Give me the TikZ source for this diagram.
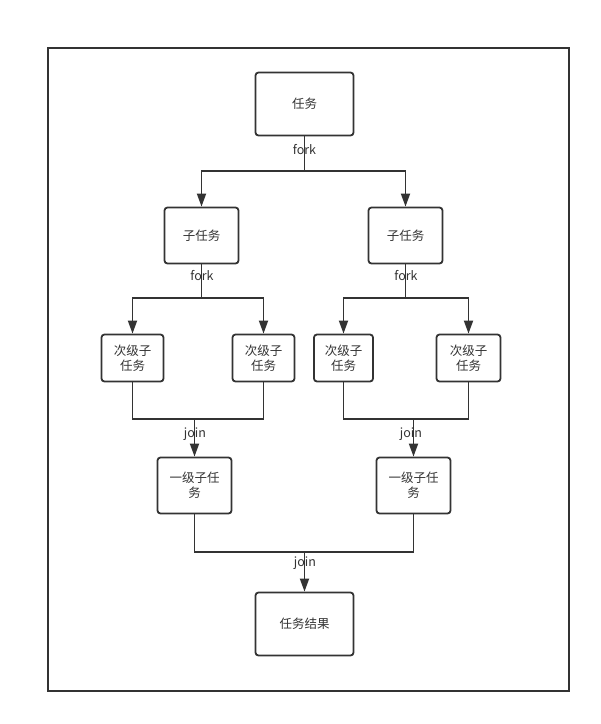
\documentclass[tikz,border=0pt]{standalone}
\usepackage{fontspec}
\setmainfont{Noto Sans CJK SC}
\usetikzlibrary{arrows.meta}
\definecolor{ink}{HTML}{333333}
\begin{document}
\begin{tikzpicture}[x=1pt,y=-1pt,
  box/.style={draw=ink,line width=1.8pt,rounded corners=3pt,fill=white,inner sep=0pt,
    align=center,text=ink,font=\fontsize{12.5}{15}\selectfont},
  conn/.style={draw=ink,line width=1.8pt},
  arr/.style={conn,-{Triangle[length=13pt,width=9pt]}},
  lbl/.style={text=ink,font=\fontsize{12.5}{14}\selectfont,inner sep=0pt}]
\useasboundingbox (0,0) rectangle (601,724);
\draw[ink,line width=1.8pt] (48,48) rectangle (569,691);
% nodes
\node[box,minimum width=98,minimum height=63] (t) at (304.5,104) {任务};
\node[box,minimum width=74,minimum height=56] (s1) at (201.5,235.5) {子任务};
\node[box,minimum width=74,minimum height=56] (s2) at (405.5,235.5) {子任务};
\node[box,minimum width=62,minimum height=47] (c1) at (132.5,358) {次级子\\任务};
\node[box,minimum width=62,minimum height=47] (c2) at (263.5,358) {次级子\\任务};
\node[box,minimum width=59,minimum height=47] (c3) at (343.5,358) {次级子\\任务};
\node[box,minimum width=64,minimum height=47] (c4) at (468.5,358) {次级子\\任务};
\node[box,minimum width=74,minimum height=56] (m1) at (194.5,485.5) {一级子任\\务};
\node[box,minimum width=74,minimum height=56] (m2) at (413.5,485.5) {一级子任\\务};
\node[box,minimum width=98,minimum height=63] (r) at (304.5,624) {任务结果};
% junctions
\coordinate (f0) at (304.5,171);
\coordinate (f1) at (201.5,298);
\coordinate (f2) at (405.5,298);
\coordinate (j1) at (194.5,419);
\coordinate (j2) at (413.5,419);
\coordinate (j0) at (304.5,552);
% fork connectors
\draw[conn] (t.south) -- (f0);
\draw[arr] (f0) -| (s1.north);
\draw[arr] (f0) -| (s2.north);
\draw[conn] (s1.south) -- (f1);
\draw[arr] (f1) -| (c1.north);
\draw[arr] (f1) -| (c2.north);
\draw[conn] (s2.south) -- (f2);
\draw[arr] (f2) -| (c3.north);
\draw[arr] (f2) -| (c4.north);
% join connectors
\draw[conn] (c1.south) |- (j1);
\draw[conn] (c2.south) |- (j1);
\draw[arr] (j1) -- (m1.north);
\draw[conn] (c3.south) |- (j2);
\draw[conn] (c4.south) |- (j2);
\draw[arr] (j2) -- (m2.north);
\draw[conn] (m1.south) |- (j0);
\draw[conn] (m2.south) |- (j0);
\draw[arr] (j0) -- (r.north);
% labels
\node[lbl] (lf0) at (304.5,150) {fork};
\node[lbl] (lf1) at (202,276) {fork};
\node[lbl] (lf2) at (406,276) {fork};
\node[lbl] (lj1) at (195,434) {join};
\node[lbl] (lj2) at (411,434) {join};
\node[lbl] (lj0) at (305,563) {join};
\end{tikzpicture}
\end{document}
